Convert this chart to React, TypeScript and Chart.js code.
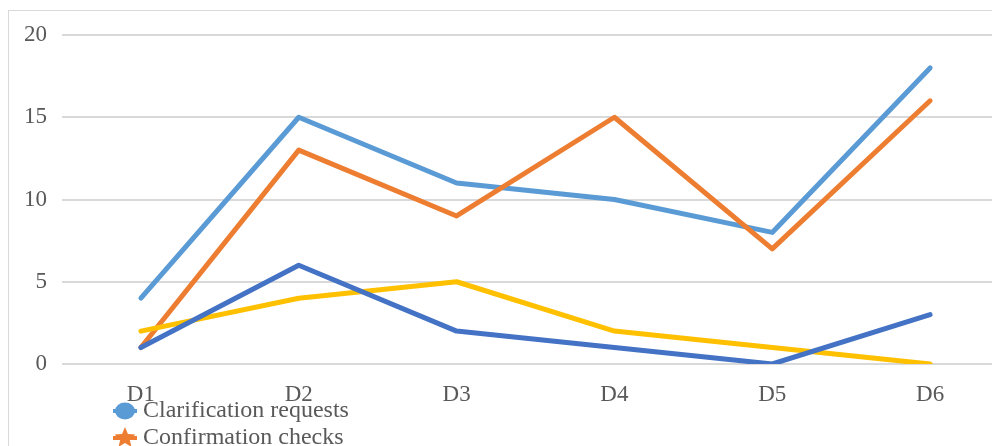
import React, { useEffect, useRef } from "react";
import { Chart, registerables } from "chart.js";

Chart.register(...registerables);

const categories = ["D1", "D2", "D3", "D4", "D5", "D6"];
const seriesNames = [
  "Clarification requests",
  "Confirmation checks",
  "Comprehension checks",
  "Repetition requests",
];
const clarificationRequests = [4, 15, 11, 10, 8, 18];
const confirmationChecks = [1, 13, 9, 15, 7, 16];
const comprehensionChecks = [2, 4, 5, 2, 1, 0];
const repetitionRequests = [1, 6, 2, 1, 0, 3];
const yTicks = [0, 5, 10, 15, 20];

const colors = ["#5B9BD5", "#ED7D31", "#FFC000", "#4472C4"];
const markers = ["circle", "star", "triangle", "diamond"];
const FONT = "'Liberation Serif', 'Times New Roman', serif";

function drawStar(ctx: CanvasRenderingContext2D, cx: number, cy: number, r: number) {
  ctx.beginPath();
  for (let i = 0; i < 10; i++) {
    const rad = i % 2 === 0 ? r : r * 0.45;
    const a = -Math.PI / 2 + (i * Math.PI) / 5;
    const x = cx + rad * Math.cos(a);
    const y = cy + rad * Math.sin(a);
    if (i === 0) ctx.moveTo(x, y);
    else ctx.lineTo(x, y);
  }
  ctx.closePath();
  ctx.fill();
}

const legendPlugin = {
  id: "bottomLegend",
  afterDraw(chart: any) {
    const ctx = chart.ctx as CanvasRenderingContext2D;
    const ds = chart.data.datasets;
    ctx.save();
    const startY = 400;
    const rowH = 27;
    const markerCx = 116;
    const textX = 134;
    ds.forEach((d: any, i: number) => {
      const y = startY + i * rowH;
      const c = d.borderColor as string;
      ctx.strokeStyle = c;
      ctx.fillStyle = c;
      ctx.lineWidth = 4;
      ctx.beginPath();
      ctx.moveTo(markerCx - 12, y);
      ctx.lineTo(markerCx + 12, y);
      ctx.stroke();
      const m = markers[i];
      if (m === "circle") {
        ctx.beginPath();
        ctx.ellipse(markerCx, y, 10, 8.5, 0, 0, Math.PI * 2);
        ctx.fill();
      } else if (m === "star") {
        drawStar(ctx, markerCx, y, 11);
      } else if (m === "triangle") {
        ctx.beginPath();
        ctx.moveTo(markerCx, y - 8);
        ctx.lineTo(markerCx + 8, y + 6);
        ctx.lineTo(markerCx - 8, y + 6);
        ctx.closePath();
        ctx.fill();
      } else {
        ctx.beginPath();
        ctx.moveTo(markerCx, y - 8);
        ctx.lineTo(markerCx + 8, y);
        ctx.lineTo(markerCx, y + 8);
        ctx.lineTo(markerCx - 8, y);
        ctx.closePath();
        ctx.fill();
      }
      ctx.fillStyle = "#595959";
      ctx.font = `24px ${FONT}`;
      ctx.textBaseline = "middle";
      ctx.textAlign = "left";
      ctx.fillText(d.label, textX, y);
    });
    ctx.restore();
  },
};

export default function App() {
  const canvasRef = useRef<HTMLCanvasElement | null>(null);

  useEffect(() => {
    if (!canvasRef.current) return;
    const seriesData = [
      clarificationRequests,
      confirmationChecks,
      comprehensionChecks,
      repetitionRequests,
    ];
    const drawOrder = [4, 3, 2, 1];
    const chart = new Chart(canvasRef.current, {
      type: "line",
      data: {
        labels: categories,
        datasets: seriesData.map((d, i) => ({
          label: seriesNames[i],
          data: d,
          borderColor: colors[i],
          backgroundColor: colors[i],
          borderWidth: 5,
          pointRadius: 0,
          pointHoverRadius: 0,
          tension: 0,
          borderCapStyle: "round" as const,
          borderJoinStyle: "round" as const,
          order: drawOrder[i],
        })),
      },
      options: {
        animation: false,
        responsive: true,
        maintainAspectRatio: false,
        layout: { padding: { top: 24, left: 0, right: 0, bottom: 0 } },
        plugins: {
          legend: { display: false },
          tooltip: { enabled: false },
        },
        scales: {
          x: {
            offset: true,
            grid: { display: false, drawTicks: false },
            border: { display: false },
            ticks: {
              color: "#595959",
              font: { family: FONT, size: 23 },
              padding: 17,
              maxRotation: 0,
            },
            afterFit: (scale: any) => {
              scale.height = 82;
            },
          },
          y: {
            min: 0,
            max: 20,
            afterBuildTicks: (scale: any) => {
              scale.ticks = yTicks.map((v) => ({ value: v }));
            },
            grid: { color: "#D9D9D9", lineWidth: 2, drawTicks: false },
            border: { display: false },
            ticks: {
              color: "#595959",
              font: { family: FONT, size: 23 },
              padding: 15,
            },
            afterFit: (scale: any) => {
              scale.width = 53;
              scale.paddingTop = 10;
              scale.paddingBottom = 10;
            },
          },
        },
      },
      plugins: [legendPlugin],
    });
    return () => chart.destroy();
  }, []);

  return (
    <div style={{ width: 992, height: 438, overflow: "hidden", background: "#fff" }}>
      <div
        style={{
          marginTop: 2,
          width: 1010,
          height: 440,
          borderLeft: "1px solid #D9D9D9",
          borderTop: "1px solid #D9D9D9",
          position: "relative",
          background: "#fff",
        }}
      >
        <div style={{ position: "absolute", left: 0, top: 0, width: 1000, height: 435 }}>
          <canvas ref={canvasRef} />
        </div>
      </div>
    </div>
  );
}
